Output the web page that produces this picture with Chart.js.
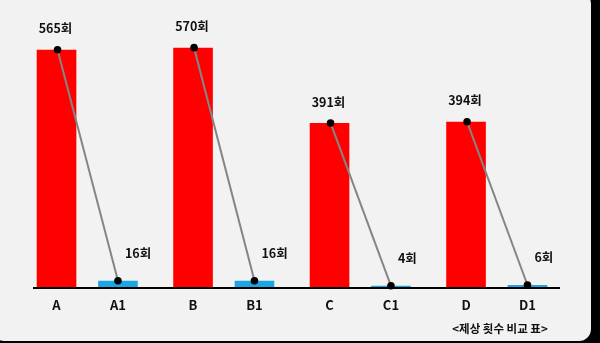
<!DOCTYPE html>
<html>
<head>
<meta charset="utf-8">
<script src="https://cdn.jsdelivr.net/npm/chart.js@4/dist/chart.umd.min.js"></script>
<style>
  html, body { margin: 0; padding: 0; background: #000; width: 600px; height: 343px; overflow: hidden; }
  #panel { position: absolute; left: -8px; top: -8px; width: 599px; height: 349px; background: #f2f2f2; border-radius: 12px; }
  #wrap { position: absolute; left: 0; top: 0; width: 600px; height: 343px; }
</style>
</head>
<body>
<div id="panel"></div>
<div id="wrap"><canvas id="c" width="600" height="343"></canvas></div>
<script>
const groups = ['A', 'B', 'C', 'D'];
const subLabels = ['A1', 'B1', 'C1', 'D1'];
const mainValues = [565, 570, 391, 394];
const subValues = [16, 16, 4, 6];
const unit = '회';
const caption = '<제상 횟수 비교 표>';

const FONT = '"Noto Sans CJK KR", "Noto Sans", sans-serif';

const overlay = {
  id: 'overlay',
  afterDatasetsDraw(chart) {
    const ctx = chart.ctx;
    const area = chart.chartArea;
    const m0 = chart.getDatasetMeta(0).data;
    const m1 = chart.getDatasetMeta(1).data;
    ctx.save();
    // axis line
    ctx.strokeStyle = '#000';
    ctx.lineWidth = 2;
    ctx.beginPath();
    ctx.moveTo(area.left + 14, area.bottom + 0.5);
    ctx.lineTo(area.right - 5, area.bottom + 0.5);
    ctx.stroke();

    for (let i = 0; i < groups.length; i++) {
      const a = m0[i], b = m1[i];
      // connecting line
      ctx.strokeStyle = '#858585';
      ctx.lineWidth = 2;
      ctx.beginPath();
      ctx.moveTo(a.x + 1, a.y);
      ctx.lineTo(b.x, b.y);
      ctx.stroke();
      // dots
      ctx.fillStyle = '#000';
      ctx.beginPath(); ctx.arc(a.x + 1, a.y, 3.8, 0, Math.PI * 2); ctx.fill();
      ctx.beginPath(); ctx.arc(b.x, b.y, 3.8, 0, Math.PI * 2); ctx.fill();

      // value labels
      ctx.fillStyle = '#111';
      ctx.font = 'bold 12.5px ' + FONT;
      ctx.textBaseline = 'middle';
      ctx.textAlign = 'center';
      ctx.fillText(mainValues[i] + unit, a.x - 1, a.y - 21);
      ctx.textAlign = 'left';
      ctx.fillText(subValues[i] + unit, b.x + 7, b.y - 28);

      // category labels
      ctx.font = 'bold 13px ' + FONT;
      ctx.textAlign = 'center';
      ctx.fillText(groups[i], a.x, area.bottom + 17.5);
      ctx.fillText(subLabels[i], b.x, area.bottom + 17.5);
    }
    // caption
    ctx.font = 'bold 11.5px ' + FONT;
    ctx.textAlign = 'center';
    ctx.fillText(caption, 500, area.bottom + 41.5);
    ctx.restore();
  }
};

new Chart(document.getElementById('c'), {
  type: 'bar',
  data: {
    labels: groups,
    datasets: [
      { data: mainValues, backgroundColor: '#ff0000', categoryPercentage: 0.9, barPercentage: 0.645 },
      { data: subValues, backgroundColor: '#1ba6e3', categoryPercentage: 0.9, barPercentage: 0.645 }
    ]
  },
  options: {
    responsive: false,
    animation: false,
    layout: { padding: { left: 19, right: 35, top: 35, bottom: 55.5 } },
    plugins: { legend: { display: false }, tooltip: { enabled: false } },
    scales: {
      x: { display: false },
      y: { display: false, min: 0, max: 600 }
    }
  },
  plugins: [overlay]
});
</script>
</body>
</html>
